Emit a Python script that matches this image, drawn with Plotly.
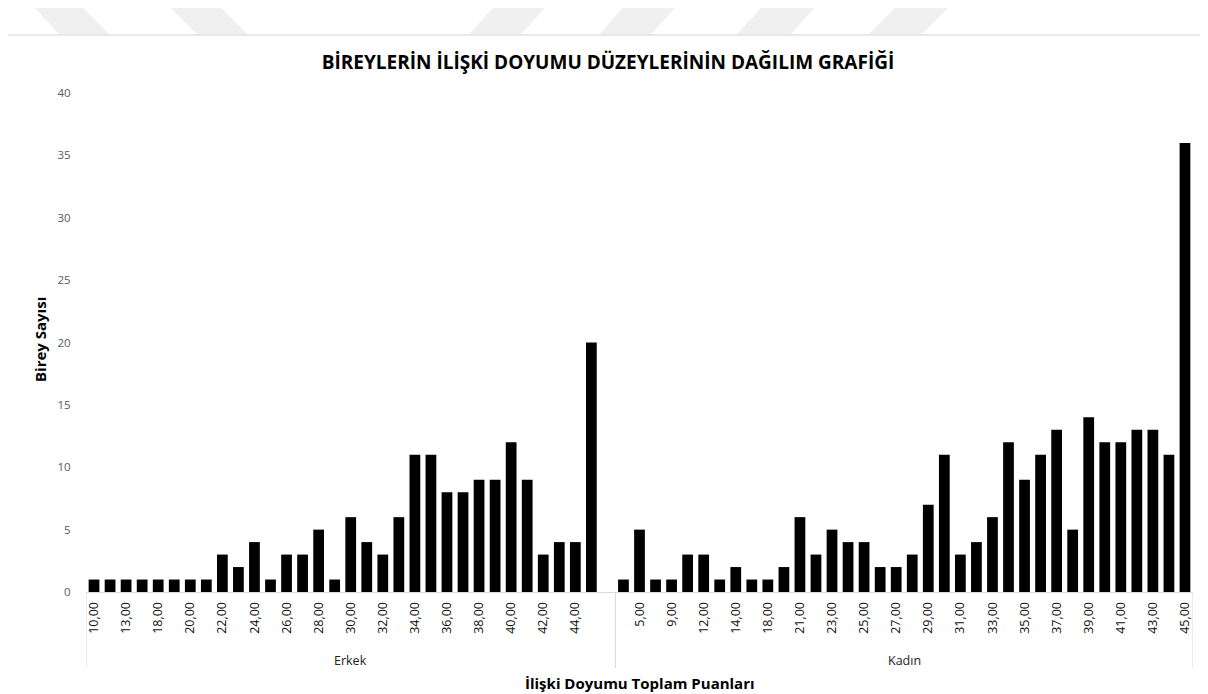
import plotly.graph_objects as go

# ---- data ----
groups = ["Erkek", "Kadın"]
erkek_scores = [10, 11, 13, 16, 18, 19, 20, 21, 22, 23, 24, 25, 26, 27, 28, 29,
                30, 31, 32, 33, 34, 35, 36, 37, 38, 39, 40, 41, 42, 43, 44, 45]
erkek_counts = [1, 1, 1, 1, 1, 1, 1, 1, 3, 2, 4, 1, 3, 3, 5, 1,
                6, 4, 3, 6, 11, 11, 8, 8, 9, 9, 12, 9, 3, 4, 4, 20]
kadin_scores = [4, 5, 7, 9, 11, 12, 13, 14, 16, 18, 20, 21, 22, 23, 24, 25, 26, 27,
                28, 29, 30, 31, 32, 33, 34, 35, 36, 37, 38, 39, 40, 41, 42, 43, 44, 45]
kadin_counts = [1, 5, 1, 1, 3, 3, 1, 2, 1, 1, 2, 6, 3, 5, 4, 4, 2, 2,
                3, 7, 11, 3, 4, 6, 12, 9, 11, 13, 5, 14, 12, 12, 13, 13, 11, 36]

title_text = "BİREYLERİN İLİŞKİ DOYUMU DÜZEYLERİNİN DAĞILIM GRAFİĞİ"
y_title = "Birey Sayısı"
x_title = "İlişki Doyumu Toplam Puanları"

def fmt(v):
    return f"{v},00"

# build the category axis (Excel leaves one empty slot at the end of the first group)
keys, labels, values = [], [], []
for s, c in zip(erkek_scores, erkek_counts):
    keys.append(f"Erkek|{s}"); labels.append(fmt(s)); values.append(c)
keys.append("Erkek|blank"); labels.append(""); values.append(None)
n_erkek_slots = len(keys)
for s, c in zip(kadin_scores, kadin_counts):
    keys.append(f"Kadın|{s}"); labels.append(fmt(s)); values.append(c)
n_total = len(keys)

FONT = "Open Sans"
OFF = 8                      # the page body margin shifts the figure by 8px
W, H = 1208 - OFF, 694 - OFF
# plot area in page pixels: left 86, right 1193, top 93, bottom 592
ML, MT = 86 - OFF, 93 - OFF
MR = W - (1193 - OFF)
MB = H - (592 - OFF)
PW, PH = W - ML - MR, H - MT - MB

def px_x(p):
    return (p - OFF - ML) / PW

def px_y(p):
    return (H - MB - (p - OFF)) / PH

fig = go.Figure()
fig.add_trace(go.Bar(x=keys, y=values, marker=dict(color="#000000", line=dict(width=0)),
                     showlegend=False, hoverinfo="x+y"))

tickvals = keys[::2]
ticktext = labels[::2]

fig.update_layout(
    width=W, height=H,
    margin=dict(l=ML, r=MR, t=MT, b=MB),
    paper_bgcolor="white", plot_bgcolor="white",
    bargap=0.33,
    font=dict(family=FONT, color="#000000"),
    title=dict(text=f"<b>{title_text}</b>", x=0.5, xref="container", xanchor="center",
               y=1 - (62 - OFF) / H, yref="container", yanchor="middle",
               font=dict(family=FONT, size=19, color="#000000")),
    xaxis=dict(type="category", categoryorder="array", categoryarray=keys,
               range=[-0.5, n_total - 0.5],
               tickmode="array", tickvals=tickvals, ticktext=ticktext,
               tickangle=-90, tickfont=dict(family=FONT, size=12.5, color="#111111"),
               showline=True, linecolor="#d9d9d9", linewidth=1,
               showgrid=False, zeroline=False, ticks="outside", ticklen=4,
               tickcolor="rgba(0,0,0,0)"),
    yaxis=dict(range=[0, 40], dtick=5, tick0=0, showgrid=False, zeroline=False,
               showline=False, tickfont=dict(family=FONT, size=11.5, color="#595959"),
               ticks="outside", ticklen=12, tickcolor="rgba(0,0,0,0)"),
)

# group box lines of the two-level category axis
box_bottom = px_y(668)
for xv in [-0.5, n_erkek_slots - 0.5, n_total - 0.5]:
    fig.add_shape(type="line", xref="x", yref="paper", x0=xv, x1=xv, y0=0, y1=box_bottom,
                  line=dict(color="#d9d9d9", width=1))

# group labels
fig.add_annotation(text=groups[0], xref="x", yref="paper",
                   x=(-0.5 + n_erkek_slots - 0.5) / 2, y=px_y(660), showarrow=False,
                   font=dict(family=FONT, size=12.5, color="#222222"), yanchor="middle")
fig.add_annotation(text=groups[1], xref="x", yref="paper",
                   x=(n_erkek_slots - 0.5 + n_total - 0.5) / 2, y=px_y(660), showarrow=False,
                   font=dict(family=FONT, size=12.5, color="#222222"), yanchor="middle")

# axis titles
fig.add_annotation(text=f"<b>{y_title}</b>", xref="paper", yref="paper",
                   x=px_x(40), y=px_y(340), textangle=-90, showarrow=False,
                   xanchor="center", yanchor="middle",
                   font=dict(family=FONT, size=15, color="#000000"))
fig.add_annotation(text=f"<b>{x_title}</b>", xref="paper", yref="paper",
                   x=0.5, y=px_y(683), showarrow=False, xanchor="center",
                   font=dict(family=FONT, size=15, color="#000000"), yanchor="middle")

# faint page decoration at the top (header of the source document)
para_down = [(34, 82, 59, 109), (170, 220, 197, 247)]
para_up = [(494, 546, 469, 521), (623, 676, 600, 651), (762, 815, 737, 791), (896, 949, 869, 922)]
for (t0, t1, b0, b1) in para_down + para_up:
    path = (f"M {px_x(t0)},{px_y(7)} L {px_x(t1)},{px_y(7)} "
            f"L {px_x(b1)},{px_y(34)} L {px_x(b0)},{px_y(34)} Z")
    fig.add_shape(type="path", xref="paper", yref="paper", path=path,
                  fillcolor="#f0f0f0", line=dict(width=0), layer="below")
fig.add_shape(type="line", xref="paper", yref="paper", x0=px_x(7), x1=px_x(1208),
              y0=px_y(35), y1=px_y(35), line=dict(color="#e8e8e8", width=2))

fig.write_html("out.html")
